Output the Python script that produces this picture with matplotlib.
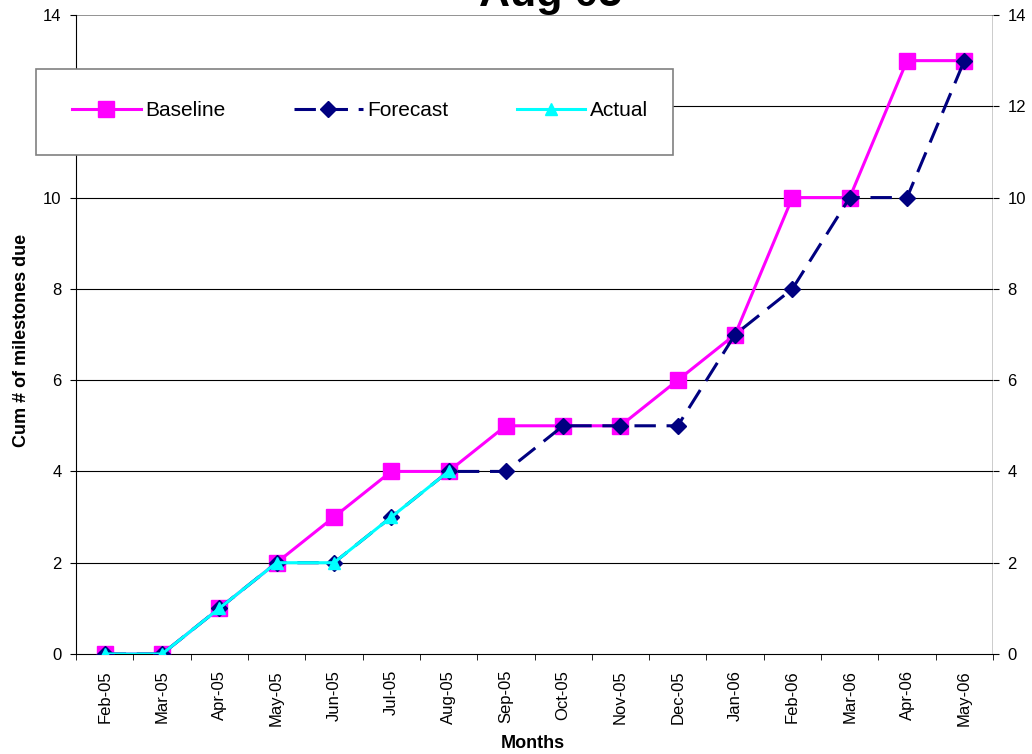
import matplotlib
matplotlib.use('Agg')
from matplotlib import pyplot as plt
from matplotlib.patches import Rectangle
import numpy as np

months = ['Feb-05', 'Mar-05', 'Apr-05', 'May-05', 'Jun-05', 'Jul-05', 'Aug-05', 'Sep-05',
          'Oct-05', 'Nov-05', 'Dec-05', 'Jan-06', 'Feb-06', 'Mar-06', 'Apr-06', 'May-06']
baseline = [0, 0, 1, 2, 3, 4, 4, 5, 5, 5, 6, 7, 10, 10, 13, 13]
forecast = [0, 0, 1, 2, 2, 3, 4, 4, 5, 5, 5, 7, 8, 10, 10, 13]
actual = [0, 0, 1, 2, 2, 3, 4]

plt.rcParams['font.family'] = ['Liberation Sans', 'DejaVu Sans']

W, H = 1032, 754
fig = plt.figure(figsize=(W/100, H/100), dpi=100)
ax = fig.add_axes([76/W, (H-654)/H, 917/W, 639/H])

x = np.arange(len(months))
ax.plot(x, baseline, '-', color='#FF00FF', lw=2.2, marker='s', ms=11, label='Baseline', zorder=3)
ax.plot(x, forecast, '--', color='#000080', lw=2.2, dashes=(7, 3.5), marker='D', ms=8,
        label='Forecast', zorder=4)
ax.plot(x[:len(actual)], actual, '-', color='#00FFFF', lw=2.2, marker='^', ms=9,
        label='Actual', zorder=5)

ax.set_xlim(-0.5, len(months) - 0.5)
ax.set_ylim(0, 14)
ax.set_yticks(range(0, 15, 2))
ax.set_xticks(x)
ax.set_xticklabels(months, rotation=90, fontsize=12)
ax.set_xticks(np.arange(-0.5, len(months)), minor=True)
ax.tick_params(axis='x', which='major', length=0, pad=11.5)
ax.tick_params(axis='x', which='minor', length=4.5, direction='out')
ax.tick_params(axis='y', labelsize=12, length=4.5, pad=6, direction='out',
               right=True, labelright=True)

for yv in range(2, 14, 2):
    ax.axhline(yv, color='black', lw=0.8, zorder=1)
ax.axhline(14, color='#808080', lw=1.2, zorder=1)

for s in ['top', 'right']:
    ax.spines[s].set_visible(False)
ax.axvline(len(months) - 0.5, color='black', lw=1, zorder=1)

fig.text(22/W, 1 - 340/H, 'Cum # of milestones due', rotation=90, ha='center', va='center',
         fontsize=13, fontweight='bold')
fig.text(533/W, 1 - 744/H, 'Months', ha='center', va='center', fontsize=13, fontweight='bold')

fig.text(551/W, 1 - 6/H, 'Aug 05', ha='center', va='baseline', fontsize=31, fontweight='bold')

# legend box
fig.patches.append(Rectangle((36/W, 1 - 155/H), 637/W, 86/H, transform=fig.transFigure,
                             facecolor='white', edgecolor='#808080', lw=1.2, zorder=2))
leg = fig.legend(loc='center left', bbox_to_anchor=(72/W, 1 - 111/H), ncol=3, fontsize=15,
                 handlelength=3.3, handletextpad=0.2, columnspacing=3.3,
                 frameon=False, borderaxespad=0, borderpad=0)
leg.set_zorder(3)

fig.savefig('out.png', dpi=100)
